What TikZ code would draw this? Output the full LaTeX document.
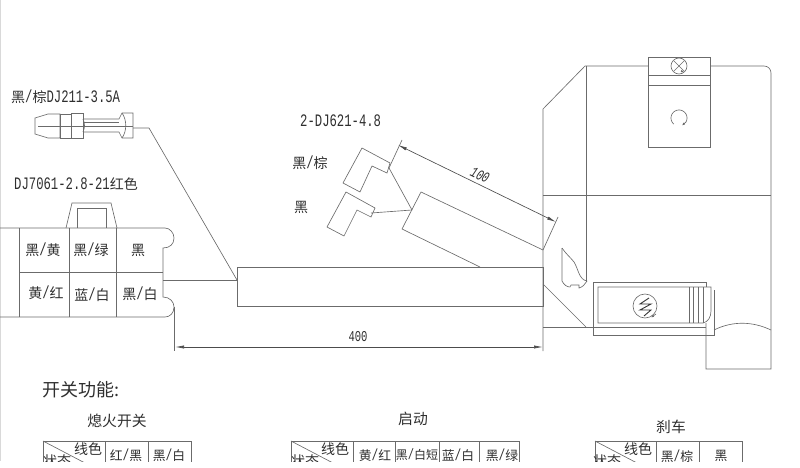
\documentclass[tikz,border=0pt]{standalone}
\usepackage{fontspec}
\setmainfont[FakeStretch=.7]{Liberation Mono}
\newfontfamily\cjk[Scale=.8]{Noto Sans CJK SC}
\usetikzlibrary{arrows.meta}
\definecolor{linegray}{gray}{.42}
\definecolor{textgray}{gray}{.18}
\newcommand{\cn}[1]{{\cjk #1}}
\tikzset{
  wire/.style={draw=linegray,line width=.65pt},
  dimline/.style={wire,{Latex[length=9pt,width=3.2pt]}-{Latex[length=9pt,width=3.2pt]},black!70},
  lbl/.style={text=textgray,inner sep=0pt,font=\fontsize{17.5}{20}\selectfont},
  lblsmall/.style={lbl,font=\fontsize{15}{17}\selectfont},
  lbltable/.style={lbl,font=\fontsize{16}{18}\selectfont},
  lblhead/.style={lbl,font=\fontsize{18.5}{20}\selectfont},
  tick/.style={wire,-{Latex[length=3pt,width=2.5pt]}}
}
\begin{document}
\begin{tikzpicture}[x=1pt,y=-1pt]
\useasboundingbox (0,0) rectangle (800,468);
\clip (0,0) rectangle (800,461);

\draw[wire,black!15] (.5,0) -- (.5,461);

% terminal
\draw[wire] (35,118) -- (48,114) -- (60,114) -- (60,138) -- (48,138) -- (35,134) -- cycle;
\draw[wire] (60,114) rectangle (71,138);
\draw[wire] (71,113) rectangle (83,138);
\draw[wire] (83,119) -- (119,119) -- (122,113) -- (133,113) -- (133,138) -- (122,138) -- (119,132) -- (83,132);
\draw[wire] (83,122) -- (119,122);
\draw[wire] (38,126) -- (133,126);
\draw[wire] (83,119) .. controls (85,123) and (85,128) .. (83,132);
\draw[wire] (122,113) .. controls (127,120) and (127,131) .. (122,138);
\coordinate (termout) at (133,128);
\coordinate (wirebend) at (149,128);
\coordinate (boxjoin) at (237,280);
\draw[wire] (termout) -- (wirebend) -- (boxjoin);

% connector
\draw[wire] (0,228) -- (165,228) .. controls (170,228) and (174,233) .. (174,238) .. controls (174,244) and (170,248) .. (163,248) -- (163,297) .. controls (170,297) and (174,302) .. (174,307) .. controls (174,313) and (170,317) .. (165,317) -- (0,317);
\foreach \xc in {19,69,116} \draw[wire] (\xc,228) -- (\xc,317);
\draw[wire] (19,272) -- (163,272);
\draw[wire] (66,228) -- (72,203) -- (111,203) -- (117,228);
\draw[wire] (77,228) -- (77,208) -- (106,208) -- (106,228);
\coordinate (connout) at (163,280);
\draw[wire] (connout) -- (boxjoin);

% main sleeve
\draw[wire] (237,267) rectangle (543,306);
\coordinate (dimleft) at (175,347);
\coordinate (dimright) at (543,347);
\draw[wire] (174,307) -- (174,351);
\draw[dimline] (dimleft) -- (dimright);
\node[lblsmall] (len400) at (358,337) {400};

% spade terminals
\draw[wire] (362,148) -- (390,163) -- (387,173) -- (372,166) -- (360,192) -- (343,183) -- cycle;
\draw[wire] (346,192) -- (375,208) -- (371,217) -- (357,210) -- (344,236) -- (327,227) -- cycle;
\coordinate (spadeone) at (389,168);
\coordinate (spadetwo) at (371,213);
\coordinate (branch) at (412,210);
\draw[wire] (spadeone) -- (branch);
\draw[wire] (spadetwo) -- (branch);
\draw[wire] (480,267) -- (402,229) -- (421,192) -- (543,250);
\draw[wire] (spadeone) -- (402,140);
\draw[wire] (543,250) -- (558,217);
\coordinate (dimup) at (398,145);
\coordinate (dimdown) at (556,222);
\draw[dimline] (dimup) -- (dimdown);
\node[lblsmall,rotate=-26] (len100) at (480,175) {\itshape 100};

% switch housing
\draw[wire] (543,351) -- (543,109) -- (585,66) -- (648,66);
\draw[wire] (710,66) -- (764,66) .. controls (768,66) and (771,69) .. (771,73) -- (771,369) -- (706,369) -- (706,323);
\draw[wire] (586,66) -- (586,282);
\draw[wire] (543,195) -- (771,195);

% upper switch
\draw[wire] (648,57) rectangle (710,147);
\draw[wire] (648,75) -- (710,75);
\draw[wire] (648,85) -- (710,85);
\draw[wire] (679,66) circle[radius=8];
\draw[wire] (673.5,60.5) -- (684.5,71.5);
\draw[wire] (684.5,60.5) -- (673.5,71.5);
\draw[tick] (681,71) -- (684,72);
\draw[wire,domain=-230:35,samples=40,smooth] plot({679+8*cos(\x)},{118+8*sin(\x)});
\draw[tick] (686,122) -- (682,125.5);

% small latch
\draw[wire] (562,248) -- (562,281) .. controls (564,285) and (567,287) .. (570,287) -- (571,285) -- (579,285) -- (579,288) .. controls (583,287) and (585,284) .. (587,281);
\draw[wire] (562,248) .. controls (566,254) and (571,258) .. (574,262) .. controls (578,268) and (579,280) .. (587,281);
\draw[wire] (543,284) -- (586,327);
\draw[wire] (543,327) -- (593,327);

% lower switch
\draw[wire] (706,287) -- (706,282) -- (593,282) -- (593,335) -- (714,335) -- (714,290);
\draw[wire] (593,327) -- (706,327);
\draw[wire] (598,323) -- (598,287) -- (711,287) -- (711,311) .. controls (711,317) and (708,322) .. (703,323) -- cycle;
\foreach \xr in {689,693,698,703} \draw[wire] (\xr,287) -- (\xr,323);
\draw[wire] (714,330) .. controls (732,321) and (752,321) .. (771,330);
\draw[wire] (645,306) circle[radius=12];
\draw[black!80,line width=.9pt] (649,298) -- (640,304) -- (651,304) -- (640,310) -- (651,310) -- (644,316);
\draw[tick] (656,314) -- (651,317.5);

% labels
\node[lbl,anchor=west] (termlabel) at (11,97) {\cn{黑}/\cn{棕}DJ211-3.5A};
\node[lbl,anchor=west] (connlabel) at (14,184) {DJ7061-2.8-21\cn{红色}};
\node[lbl,anchor=west] (spadelabel) at (300,121) {2-DJ621-4.8};
\node[lbl] (spadeonelabel) at (310,163) {\cn{黑}/\cn{棕}};
\node[lbl] (spadetwolabel) at (301,207) {\cn{黑}};
\node[lbl] (cellone) at (43,250) {\cn{黑}/\cn{黄}};
\node[lbl] (celltwo) at (91,250) {\cn{黑}/\cn{绿}};
\node[lbl] (cellthree) at (138,250) {\cn{黑}};
\node[lbl] (cellfour) at (46,293) {\cn{黄}/\cn{红}};
\node[lbl] (cellfive) at (92,295) {\cn{蓝}/\cn{白}};
\node[lbl] (cellsix) at (140,294) {\cn{黑}/\cn{白}};

% function tables
\node[lbl,font=\fontsize{22.5}{24}\selectfont] (functitle) at (81,390) {\cn{开关功能:}};
\node[lblhead] (stoptitle) at (117,421) {\cn{熄火开关}};
\node[lblhead] (starttitle) at (413,419) {\cn{启动}};
\node[lblhead] (braketitle) at (671,427) {\cn{刹车}};

\draw[wire] (43,470) -- (43,441) -- (191,441) -- (191,470);
\foreach \xc in {105,148} \draw[wire] (\xc,441) -- (\xc,470);
\draw[wire] (43,441) -- (85,463);
\node[lbl] (colorone) at (88,449) {\cn{线色}};
\node[lbl] (stateone) at (57,461) {\cn{状态}};
\node[lbltable] (stopa) at (126,455) {\cn{红}/\cn{黑}};
\node[lbltable] (stopb) at (169,455) {\cn{黑}/\cn{白}};

\draw[wire] (291,470) -- (291,441) -- (519,441) -- (519,470);
\foreach \xc in {353,395,439,479} \draw[wire] (\xc,441) -- (\xc,470);
\draw[wire] (291,441) -- (333,463);
\node[lbl] (colortwo) at (335,449) {\cn{线色}};
\node[lbl] (statetwo) at (305,461) {\cn{状态}};
\node[lbltable] (starta) at (375,455) {\cn{黄}/\cn{红}};
\node[lblsmall] (startb) at (417,455) {\cn{黑}/\cn{白短}};
\node[lbltable] (startc) at (458,455) {\cn{蓝}/\cn{白}};
\node[lbltable] (startd) at (502,455) {\cn{黑}/\cn{绿}};

\draw[wire] (595,470) -- (595,441) -- (742,441) -- (742,470);
\foreach \xc in {656,699} \draw[wire] (\xc,441) -- (\xc,470);
\draw[wire] (595,441) -- (637,463);
\node[lbl] (colorthree) at (638,449) {\cn{线色}};
\node[lbl] (statethree) at (607,461) {\cn{状态}};
\node[lbltable] (brakea) at (677,456) {\cn{黑}/\cn{棕}};
\node[lbltable] (brakeb) at (721,456) {\cn{黑}};
\end{tikzpicture}
\end{document}
